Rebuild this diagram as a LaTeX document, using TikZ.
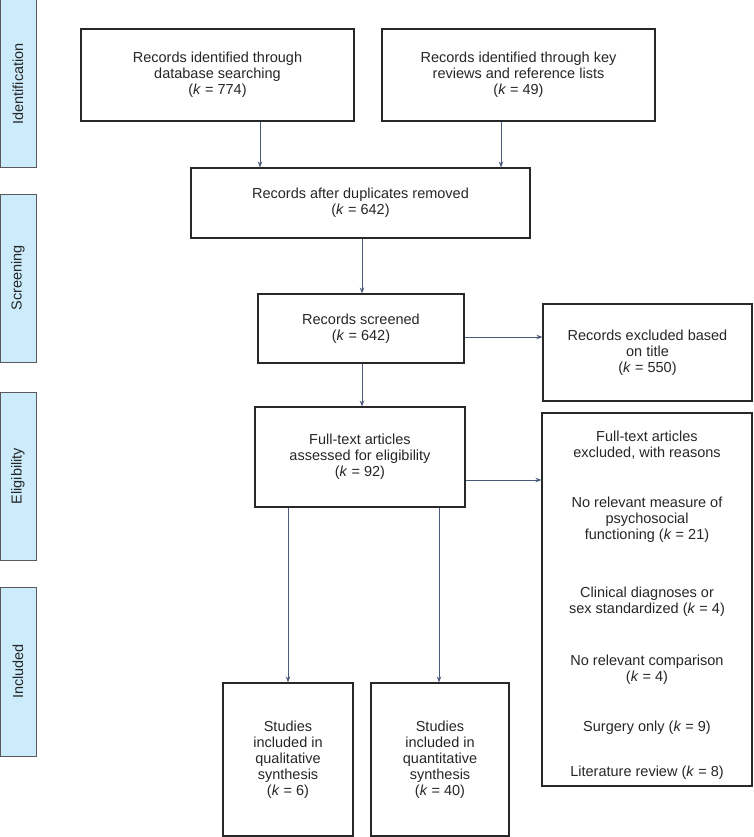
\documentclass[tikz,border=0pt]{standalone}
\usepackage{fontspec}
\setmainfont{Liberation Sans}
\usetikzlibrary{arrows.meta}
\definecolor{phasefill}{RGB}{204,236,252}
\definecolor{phaseline}{RGB}{90,90,90}
\definecolor{arrowc}{RGB}{74,90,122}
\definecolor{boxc}{RGB}{40,40,40}
\begin{document}
\begin{tikzpicture}[x=1pt,y=-1pt,
  txt/.style={font=\fontsize{14.5}{16}\selectfont, align=center, inner sep=0pt, text=black!85},
  box/.style={txt, draw=boxc, line width=1.1pt},
  phase/.style={draw=phaseline, fill=phasefill, line width=1pt, rotate=90,
    minimum height=36pt, inner sep=0pt, font=\fontsize{14.5}{16}\selectfont, text=black!85},
  arr/.style={draw=arrowc, line width=0.9pt, -{Stealth[length=6pt,width=4.5pt]}}]
\useasboundingbox (0,0) rectangle (753,837);
% phase labels
\node[phase, minimum width=168pt] (p1) at (18,84) {Identification};
\node[phase, minimum width=168pt] (p2) at (18,278) {Screening};
\node[phase, minimum width=168pt] (p3) at (18,476) {Eligibility};
\node[phase, minimum width=169pt] (p4) at (18,671.5) {Included};
% boxes
\node[box, minimum width=273pt, minimum height=92pt] (b1) at (217.5,75)
  {Records identified through\\database searching\\(\textit{k} = 774)};
\node[box, minimum width=273pt, minimum height=92pt] (b2) at (518.5,75)
  {Records identified through key\\reviews and reference lists\\(\textit{k} = 49)};
\node[box, minimum width=339pt, minimum height=70pt] (b3) at (360.5,203)
  {Records after duplicates removed\\(\textit{k} = 642)};
\node[box, minimum width=206pt, minimum height=69pt] (b4) at (361,328.5)
  {Records screened\\(\textit{k} = 642)};
\node[box, minimum width=209pt, minimum height=97pt] (b5) at (647.5,352.5)
  {Records excluded based\\on title\\(\textit{k} = 550)};
\node[box, minimum width=210pt, minimum height=100pt] (b6) at (360,457)
  {Full-text articles\\assessed for eligibility\\(\textit{k} = 92)};
\node[box, minimum width=210pt, minimum height=373pt] (b7) at (647,599.5) {};
\node[box, minimum width=130pt, minimum height=153pt] (b8) at (288,759.5)
  {Studies\\included in\\qualitative\\synthesis\\(\textit{k} = 6)};
\node[box, minimum width=138pt, minimum height=153pt] (b9) at (440,759.5)
  {Studies\\included in\\quantitative\\synthesis\\(\textit{k} = 40)};
% texts inside b7
\node[txt] (r0) at (647,445.5) {Full-text articles\\excluded, with reasons};
\node[txt] (r1) at (647,520) {No relevant measure of\\psychosocial\\functioning (\textit{k} = 21)};
\node[txt] (r2) at (647,602) {Clinical diagnoses or\\sex standardized (\textit{k} = 4)};
\node[txt] (r3) at (647,670) {No relevant comparison\\(\textit{k} = 4)};
\node[txt] (r4) at (647,728) {Surgery only (\textit{k} = 9)};
\node[txt] (r5) at (647,773) {Literature review (\textit{k} = 8)};
% connectors
\draw[arr] ([xshift=42.5pt]b1.south) coordinate (a1) -- (a1 |- b3.north);
\draw[arr] ([xshift=-17.5pt]b2.south) coordinate (a2) -- (a2 |- b3.north);
\draw[arr] ([xshift=1.5pt]b3.south) coordinate (a3) -- (a3 |- b4.north);
\draw[arr] ([yshift=-8.5pt]b4.east) coordinate (a4) -- (a4 -| b5.west);
\draw[arr] ([xshift=1pt]b4.south) coordinate (a5) -- (a5 |- b6.north);
\draw[arr] ([yshift=-23pt]b6.east) coordinate (a6) -- (a6 -| b7.west);
\draw[arr] ([xshift=-72pt]b6.south) coordinate (a7) -- (a7 |- b8.north);
\draw[arr] ([xshift=79pt]b6.south) coordinate (a8) -- (a8 |- b9.north);
\end{tikzpicture}
\end{document}
